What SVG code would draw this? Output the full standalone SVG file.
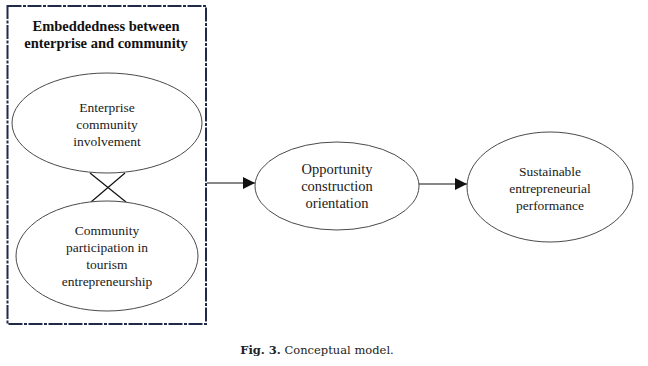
<svg xmlns="http://www.w3.org/2000/svg" width="648" height="366" viewBox="0 0 648 366">
<style>
.n{fill:#fff;stroke:#4a4a4a;stroke-width:1}
.t{font-family:"Liberation Serif","Times New Roman",serif;font-size:13.5px;fill:#1a1a1a;text-anchor:middle}
.tb{font-family:"Liberation Serif","Times New Roman",serif;font-size:14.5px;font-weight:bold;fill:#111;text-anchor:middle}
.c{stroke:#111;stroke-width:1.2;fill:none}
</style>
<defs>
<marker id="ah" viewBox="0 0 10 10" refX="10" refY="5" markerWidth="12" markerHeight="12" markerUnits="userSpaceOnUse" orient="auto">
<path d="M0,0 L10,5 L0,10 z" fill="#111"/>
</marker>
</defs>
<rect width="648" height="366" fill="#fff"/>
<g id="group-box">
<rect x="7.5" y="6" width="198.5" height="318" fill="none" stroke="#1f2b48" stroke-width="2" stroke-dasharray="14,1.5,3,1.5"/>
<text class="tb" x="106" y="31">Embeddedness between</text>
<text class="tb" x="106" y="48">enterprise and community</text>
</g>
<g id="connectors">
<line class="c" x1="90" y1="173" x2="126" y2="202" stroke-width="0.9"/>
<line class="c" x1="125" y1="173" x2="91" y2="202" stroke-width="0.9"/>
<line class="c" x1="207" y1="183" x2="255" y2="183" marker-end="url(#ah)"/>
<line class="c" x1="419" y1="184" x2="467" y2="184" marker-end="url(#ah)"/>
</g>
<g id="node-involvement">
<ellipse class="n" cx="107" cy="123" rx="95" ry="50"/>
<text class="t" x="107" y="112">Enterprise</text>
<text class="t" x="107" y="129">community</text>
<text class="t" x="107" y="146">involvement</text>
</g>
<g id="node-participation">
<ellipse class="n" cx="107" cy="256" rx="91" ry="55"/>
<text class="t" x="107" y="235">Community</text>
<text class="t" x="107" y="252">participation in</text>
<text class="t" x="107" y="269">tourism</text>
<text class="t" x="107" y="286">entrepreneurship</text>
</g>
<g id="node-opportunity">
<ellipse class="n" cx="337" cy="186" rx="82" ry="44"/>
<text class="t" x="337" y="174" style="font-size:14.5px">Opportunity</text>
<text class="t" x="337" y="191" style="font-size:14.5px">construction</text>
<text class="t" x="337" y="208" style="font-size:14.5px">orientation</text>
</g>
<g id="node-performance">
<ellipse class="n" cx="550" cy="187" rx="83" ry="55"/>
<text class="t" x="550" y="176">Sustainable</text>
<text class="t" x="550" y="193">entrepreneurial</text>
<text class="t" x="550" y="210">performance</text>
</g>
<text x="317" y="354" font-family="'DejaVu Serif','Liberation Serif',serif" font-size="11.5" fill="#222" text-anchor="middle"><tspan font-weight="bold">Fig. 3.</tspan> Conceptual model.</text>
</svg>
